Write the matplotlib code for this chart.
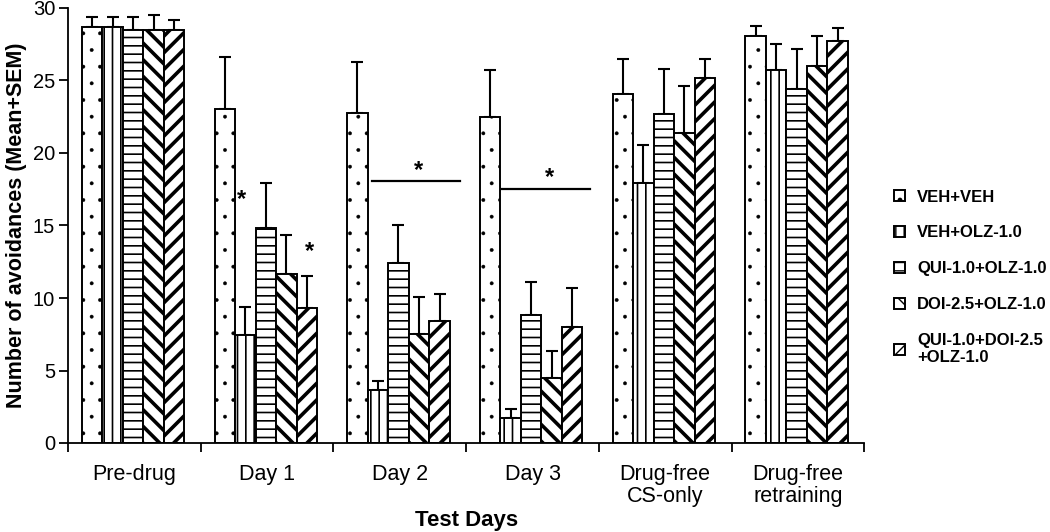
import matplotlib
matplotlib.use("Agg")
import matplotlib.pyplot as plt
import numpy as np

plt.rcParams['font.family'] = ['Liberation Sans', 'DejaVu Sans']

days = ["Pre-drug", "Day 1", "Day 2", "Day 3", "Drug-free\nCS-only", "Drug-free\nretraining"]
groups = ["VEH+VEH", "VEH+OLZ-1.0", "QUI-1.0+OLZ-1.0", "DOI-2.5+OLZ-1.0", "QUI-1.0+DOI-2.5\n+OLZ-1.0"]

veh_veh = [28.7, 23.0, 22.75, 22.5, 24.05, 28.05]
veh_olz = [28.7, 7.45, 3.65, 1.7, 17.9, 25.75]
qui_olz = [28.5, 14.8, 12.4, 8.8, 22.7, 24.4]
doi_olz = [28.5, 11.65, 7.5, 4.5, 21.35, 26.0]
qui_doi_olz = [28.5, 9.3, 8.4, 8.0, 25.2, 27.75]

sem_veh_veh = [0.7, 3.6, 3.5, 3.2, 2.45, 0.7]
sem_veh_olz = [0.7, 1.95, 0.65, 0.65, 2.65, 1.8]
sem_qui_olz = [0.9, 3.15, 2.6, 2.3, 3.1, 2.8]
sem_doi_olz = [1.0, 2.7, 2.6, 1.85, 3.25, 2.1]
sem_qui_doi_olz = [0.7, 2.2, 1.85, 2.7, 1.3, 0.85]

means = [veh_veh, veh_olz, qui_olz, doi_olz, qui_doi_olz]
sems = [sem_veh_veh, sem_veh_olz, sem_qui_olz, sem_doi_olz, sem_qui_doi_olz]

hatches = ['.', '||', '--', '\\\\', '//']
hatch_lws = [0.3, 1.2, 1.2, 2.6, 2.6]

fig = plt.figure(figsize=(10.5, 5.32), dpi=100)
ax = fig.add_axes([68/1050, 89/532, (864.3-68)/1050, (443-8)/532])

width = 0.1545
start = 0.104
x = np.arange(len(days))
containers = []
for k in range(5):
    xs = x + start + width * (k + 0.5)
    with plt.rc_context({'hatch.linewidth': hatch_lws[k], 'hatch.color': 'black'}):
        bc = ax.bar(xs, means[k], width=width, facecolor='white', edgecolor='black',
                    linewidth=1.4, hatch=hatches[k], label=groups[k], zorder=2)
        for p in bc:
            if hasattr(p, 'set_hatch_linewidth'):
                p.set_hatch_linewidth(hatch_lws[k])
    containers.append(bc)
    ax.errorbar(xs, means[k], yerr=[np.zeros(len(days)), sems[k]], fmt='none',
                ecolor='black', elinewidth=1.5, capsize=4.5, capthick=1.5, zorder=1)

# significance marks
star_kw = dict(fontsize=17, fontweight='bold', ha='center', va='center')
ax.text(1.311, 16.8, '*', **star_kw)
ax.text(1.816, 13.2, '*', **star_kw)
ax.plot([2.291, 2.954], [18.1, 18.1], color='black', lw=1.6)
ax.text(2.638, 18.8, '*', **star_kw)
ax.plot([3.271, 3.934], [17.5, 17.5], color='black', lw=1.6)
ax.text(3.625, 18.3, '*', **star_kw)

ax.set_xlim(0, 6)
ax.set_ylim(0, 30)
ax.set_yticks([0, 5, 10, 15, 20, 25, 30])
ax.set_xticks(np.arange(7))
ax.set_xticklabels([])
ax.set_xticks(x + 0.5, minor=True)
ax.set_xticklabels(days, minor=True, fontsize=15.5, linespacing=1.1)
ax.tick_params(axis='x', which='major', direction='out', length=6.8, width=1.3)
ax.tick_params(axis='x', which='minor', length=0, pad=15)
ax.tick_params(axis='y', direction='out', length=6.8, width=1.3, labelsize=14.5, pad=2.5)
for s in ['top', 'right']:
    ax.spines[s].set_visible(False)
for s in ['left', 'bottom']:
    ax.spines[s].set_linewidth(1.3)

ax.set_ylabel('Number of avoidances (Mean+SEM)', fontsize=15.5, fontweight='bold', labelpad=4)
ax.set_xlabel('Test Days', fontsize=16, fontweight='bold', labelpad=2)

leg = fig.legend(handles=containers, labels=groups, loc='upper left',
                 bbox_to_anchor=(887/1050, 1 - 183/532), frameon=False,
                 prop={'weight': 'bold', 'size': 12}, handlelength=0.65, handleheight=0.65,
                 handletextpad=0.75, labelspacing=1.25, borderaxespad=0)

fig.savefig('out.png', dpi=100)
